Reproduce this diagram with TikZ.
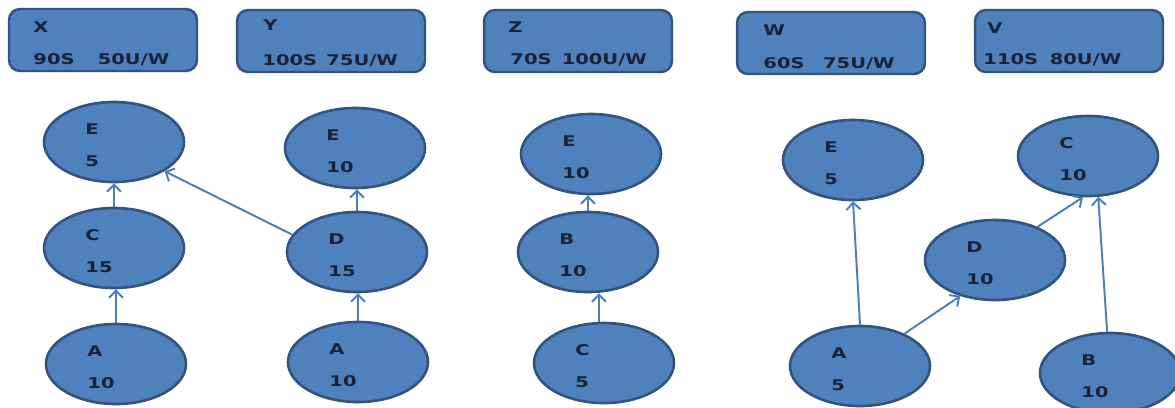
\documentclass[tikz,border=0pt]{standalone}
\usepackage{fontspec}
\newfontfamily\dvs{DejaVu Sans}[BoldFont={DejaVu Sans Bold}]
\usetikzlibrary{shapes.geometric,arrows.meta,calc}
\definecolor{fillb}{HTML}{4F81BD}
\definecolor{edgeb}{HTML}{33547F}
\definecolor{arrb}{HTML}{4A7EBB}
\definecolor{txt}{HTML}{1A2238}
\tikzset{
 box/.style={draw=edgeb, fill=fillb, line width=1.4pt, rounded corners=0.22cm, minimum width=3.76cm, minimum height=1.24cm, inner sep=0},
 circ/.style={ellipse, draw=edgeb, fill=fillb, line width=1.5pt, minimum width=2.8cm, minimum height=1.6cm, inner sep=0},
 lbl/.style={font=\dvs\bfseries\fontsize{8.4}{9}\selectfont, text=txt, inner sep=0, anchor=west, xscale=1.32},
 arr/.style={draw=arrb, line width=1.1pt, -{Straight Barb[length=4pt,width=8pt]}}
}
\newcommand\mycirc[5]{%
 \node[circ] (#1) at (#2,#3) {};
 \node[lbl] (#1-l) at ($(#1)+(-29,-13)$) {#4};
 \node[lbl] (#1-n) at ($(#1)+(-29,19)$) {#5};
}
\begin{document}
\begin{tikzpicture}[x=0.02cm,y=-0.02cm]
\useasboundingbox (0,0) rectangle (1175,407);
\fill[white] (0,0) rectangle (1175,407);
\clip (0,0) rectangle (1175,407);
% top boxes
\node[box] (X) at (103,40) {};
\node[box] (Y) at (331,41) {};
\node[box] (Z) at (578,41) {};
\node[box] (W) at (831,43) {};
\node[box] (V) at (1069,41) {};
\node[lbl] (X-a) at (33,27) {X};
\node[lbl] (X-b) at (33,60) {90S\hspace{10pt}50U/W};
\node[lbl] (Y-a) at (263,25) {Y};
\node[lbl] (Y-b) at (262,61) {100S\hspace{4pt}75U/W};
\node[lbl] (Z-a) at (508,27) {Z};
\node[lbl] (Z-b) at (510,60) {70S\hspace{4.4pt}100U/W};
\node[lbl] (W-a) at (763,30) {W};
\node[lbl] (W-b) at (763,64) {60S\hspace{8pt}75U/W};
\node[lbl] (V-a) at (987,28) {V};
\node[lbl] (V-b) at (983,60) {110S\hspace{5pt}80U/W};
% X group
\mycirc{E1}{114}{142}{E}{5}
\mycirc{C1}{114}{248}{C}{15}
\mycirc{A1}{116}{364}{A}{10}
% Y group
\mycirc{E2}{355}{148}{E}{10}
\mycirc{D2}{357}{252}{D}{15}
\mycirc{A2}{358}{362}{A}{10}
% Z group
\mycirc{E3}{591}{154}{E}{10}
\mycirc{B3}{588}{252}{B}{10}
\mycirc{C3}{604}{363}{C}{5}
% W group
\mycirc{E4}{853}{160}{E}{5}
\mycirc{D4}{995}{260}{D}{10}
\mycirc{A4}{860}{366}{A}{5}
% V group
\mycirc{C5}{1088}{156}{C}{10}
\mycirc{B5}{1110}{373}{B}{10}
% arrows
\draw[arr] (C1.north) -- (C1.north |- E1.south);
\draw[arr] (A1.north) -- (A1.north |- C1.south);
\draw[arr] (D2.165) -- (E1.330);
\draw[arr] (D2.north) -- (D2.north |- E2.south);
\draw[arr] (A2.north) -- (A2.north |- D2.south);
\draw[arr] (B3.north) -- (B3.north |- E3.south);
\draw[arr] (C3.97) -- (C3.97 |- B3.south);
\draw[arr] (A4.north) -- (E4.south);
\draw[arr] (A4.36) -- (D4.226);
\draw[arr] (D4.38) -- (C5.263);
\draw[arr] (B5.94) -- (C5.284);
\end{tikzpicture}
\end{document}
